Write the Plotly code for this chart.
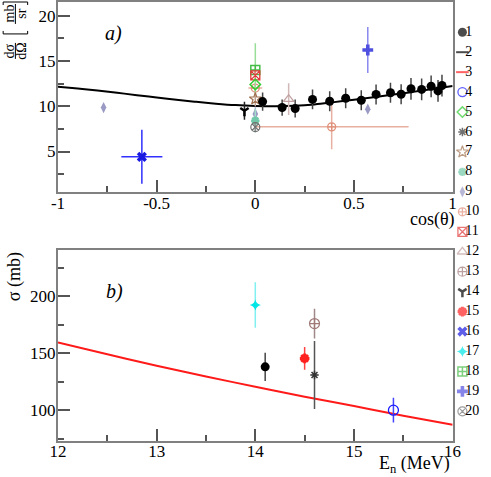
import plotly.graph_objects as go

# ---------------- panel a) angular distribution ----------------
theory_cos = [-1.0, -0.9, -0.8, -0.7, -0.6, -0.5, -0.4, -0.3, -0.2, -0.1, 0.0,
              0.1, 0.2, 0.3, 0.4, 0.5, 0.6, 0.7, 0.8, 0.9, 1.0]
theory_dsdo = [12.15, 11.95, 11.72, 11.48, 11.22, 10.97, 10.72, 10.48, 10.28, 10.12, 10.03,
               10.0, 10.05, 10.2, 10.45, 10.72, 10.98, 11.28, 11.58, 11.9, 12.22]

a1_cos = [0.037, 0.136, 0.202, 0.290, 0.377, 0.458, 0.537, 0.612, 0.685, 0.739,
          0.789, 0.843, 0.891, 0.926, 0.946]
a1_val = [10.51, 9.85, 9.74, 10.75, 10.55, 10.88, 10.66, 11.30, 11.48, 11.32,
          11.92, 11.85, 12.20, 11.69, 12.28]
a1_err = [1.0, 0.9, 1.0, 1.1, 1.1, 1.1, 1.1, 1.1, 1.1, 1.1, 1.2, 1.2, 1.2, 1.2, 1.2]

a5_cos, a5_val, a5_err = [0.0], [12.4], [0.0]
a7_cos, a7_val, a7_err = [0.0], [10.8], [0.8]
a8_cos, a8_val, a8_err = [0.0], [8.4], [1.3]
a9_cos, a9_val, a9_err = [-0.769, 0.0, 0.570], [9.85, 9.15, 9.67], [0.3, 0.8, 0.4]
a10_cos, a10_val = [0.0, 0.387], [12.0, 7.72]
a10_err, a10_xerr = [0.5, 2.48], [0.035, 0.39]
a11_cos, a11_val, a11_err = [0.0], [13.4], [0.5]
a12_cos, a12_val, a12_err = [0.169], [10.77], [1.75]
a14_cos, a14_val, a14_err = [-0.055], [9.5], [1.0]
a16_cos, a16_val, a16_err, a16_xerr = [-0.575], [4.41], [2.98], [0.104]
a18_cos, a18_val, a18_err = [0.0], [14.0], [2.95]
a19_cos, a19_val, a19_err = [0.570], [16.2], [2.55]
a20_cos, a20_val, a20_err = [0.0], [7.7], [0.5]

# ---------------- panel b) cross section vs energy ----------------
calc_en = [12.0, 12.5, 13.0, 13.5, 14.0, 14.5, 15.0, 15.5, 16.0]
calc_sigma = [159.3, 149.1, 138.9, 129.5, 120.6, 111.8, 103.6, 95.2, 87.2]

b1_en, b1_val, b1_err = [14.10], [138.0], [12.4]
b4_en, b4_val, b4_err = [15.40], [100.0], [10.9]
b6_en, b6_val, b6_err = [14.60], [130.8], [29.8]
b13_en, b13_val, b13_err = [14.60], [175.9], [13.1]
b15_en, b15_val, b15_err = [14.50], [145.4], [9.9]
b17_en, b17_val, b17_err = [14.00], [192.2], [20.0]

legend_labels = [str(i) for i in range(1, 21)]

cos_ticks = [-1, -0.5, 0, 0.5, 1]
cos_ticktext = ['-1', '-0.5', '0', '0.5', '1']

# marker styles per data set (symbol, colour, size, line width, error bar colour)
STYLE = {
    1: ('circle', 'black', 9, 0, '#444444'),
    2: ('line-ew-open', 'black', 10, 2, 'black'),
    3: ('line-ew-open', '#ff2020', 10, 2, '#ff2020'),
    4: ('circle-open', '#1a1aff', 10, 1.3, '#4444ff'),
    5: ('diamond-open', '#33cc33', 8, 1.5, '#88dd88'),
    6: ('asterisk-open', '#333333', 7, 1.5, '#555555'),
    7: ('star-open', '#a07050', 9, 1.2, '#c0a090'),
    8: ('asterisk-open', '#70c8a8', 7, 2.5, '#a0dcc8'),
    9: ('diamond-tall', '#9a9ac4', 8, 0, '#b8b8d8'),
    10: ('circle-cross-open', '#e0907a', 8, 1.3, '#e8b0a0'),
    11: ('square-x-open', '#e03a3a', 9, 1.3, '#e88080'),
    12: ('triangle-up-open', '#c0a0a0', 9, 1.3, '#d0b8b8'),
    13: ('circle-cross-open', '#a07878', 10, 1.2, '#a08888'),
    14: ('y-down-open', 'black', 7, 2.5, '#222222'),
    15: ('asterisk-open', '#ff2020', 8, 3, '#ff4040'),
    16: ('x', '#1a1ae0', 9, 0, '#3030ff'),
    17: ('star-diamond', '#00e5e5', 8, 0, '#80f0f0'),
    18: ('square-cross-open', '#44bb44', 9, 1.5, '#99dd99'),
    19: ('cross', '#5050e0', 9, 0, '#8888ee'),
    20: ('circle-x-open', '#707070', 9, 1.2, '#909090'),
}

SERIF = 'Liberation Serif'

fig = go.Figure()


def add_points(key, x, y, ey, ex=None, xaxis='x', yaxis='y'):
    sym, col, size, lw, ecol = STYLE[key]
    fig.add_trace(go.Scatter(
        x=x, y=y, mode='markers', xaxis=xaxis, yaxis=yaxis,
        marker=dict(symbol=sym, color=col, size=size, line=dict(width=lw, color=col)),
        error_y=dict(type='data', array=ey, color=ecol, thickness=1.5, width=0),
        error_x=dict(type='data', array=ex, color=ecol, thickness=1.5, width=0,
                     visible=ex is not None),
        showlegend=False, hoverinfo='x+y',
    ))


# panel a
fig.add_trace(go.Scatter(x=theory_cos, y=theory_dsdo, mode='lines',
                         line=dict(color='black', width=2, shape='spline'),
                         showlegend=False))
add_points(10, a10_cos, a10_val, a10_err, a10_xerr)
add_points(16, a16_cos, a16_val, a16_err, a16_xerr)
add_points(18, a18_cos, a18_val, a18_err)
add_points(11, a11_cos, a11_val, a11_err)
add_points(5, a5_cos, a5_val, a5_err)
add_points(7, a7_cos, a7_val, a7_err)
add_points(9, a9_cos, a9_val, a9_err)
add_points(8, a8_cos, a8_val, a8_err)
add_points(20, a20_cos, a20_val, a20_err)
add_points(12, a12_cos, a12_val, a12_err)
add_points(14, a14_cos, a14_val, a14_err)
add_points(19, a19_cos, a19_val, a19_err)
add_points(1, a1_cos, a1_val, a1_err)

# panel b
fig.add_trace(go.Scatter(x=calc_en, y=calc_sigma, mode='lines', xaxis='x2', yaxis='y2',
                         line=dict(color='#ff1a1a', width=2, shape='spline'),
                         showlegend=False))
add_points(17, b17_en, b17_val, b17_err, xaxis='x2', yaxis='y2')
add_points(1, b1_en, b1_val, b1_err, xaxis='x2', yaxis='y2')
add_points(15, b15_en, b15_val, b15_err, xaxis='x2', yaxis='y2')
add_points(6, b6_en, b6_val, b6_err, xaxis='x2', yaxis='y2')
add_points(13, b13_en, b13_val, b13_err, xaxis='x2', yaxis='y2')
add_points(4, b4_en, b4_val, b4_err, xaxis='x2', yaxis='y2')

# key column on the right, drawn on its own axes
keys = list(range(1, 21))
rows = list(range(len(keys)))
fig.add_trace(go.Scatter(
    x=[0] * len(keys), y=rows, xaxis='x3', yaxis='y3', mode='markers',
    marker=dict(symbol=[STYLE[k][0] for k in keys], color=[STYLE[k][1] for k in keys],
                size=[min(STYLE[k][2], 9) for k in keys],
                line=dict(width=[STYLE[k][3] for k in keys], color=[STYLE[k][1] for k in keys])),
    showlegend=False, hoverinfo='skip', cliponaxis=False,
))
fig.add_trace(go.Scatter(
    x=[0.3] * len(keys), y=rows, xaxis='x3', yaxis='y3', mode='text',
    text=legend_labels, textposition='middle right',
    textfont=dict(family=SERIF, size=14, color='black'),
    showlegend=False, hoverinfo='skip', cliponaxis=False,
))

# geometry of the page (pixels)
L, T, W, H = 58, 1, 433, 440
X_RIGHT = (461 - L) / W


def xp(px):
    return (px - L) / W


def yp(py):
    return (T + H - py) / H


frame = dict(showline=True, mirror=True, linecolor='#808080', linewidth=2,
             ticks='inside', ticklen=12, tickwidth=1.5, tickcolor='#555555',
             showgrid=False, zeroline=False,
             tickfont=dict(family=SERIF, size=17, color='black'))
minor = dict(ticks='inside', ticklen=6, tickcolor='#555555')

fig.update_layout(
    width=491, height=477,
    margin=dict(l=L, r=0, t=T, b=477 - T - H),
    paper_bgcolor='white', plot_bgcolor='white',
    showlegend=False,
    xaxis=dict(frame, domain=[0, X_RIGHT], anchor='y', range=[-1, 1],
               tickvals=cos_ticks, ticktext=cos_ticktext, ticklabelstandoff=-6,
               minor=dict(minor, dtick=0.25, tick0=0)),
    yaxis=dict(frame, domain=[yp(191.7), 1], anchor='x', range=[0.5, 21.5],
               tick0=0, dtick=5, ticklabelstandoff=-3,
               minor=dict(minor, dtick=2.5, tick0=0)),
    xaxis2=dict(frame, domain=[0, X_RIGHT], anchor='y2', range=[12, 16],
                tick0=12, dtick=1, ticklabelstandoff=-6,
                minor=dict(minor, dtick=0.5, tick0=12)),
    yaxis2=dict(frame, domain=[0, yp(250)], anchor='x2', range=[73, 240],
                tick0=0, dtick=50, ticklabelstandoff=-3,
                minor=dict(minor, dtick=25, tick0=0)),
    xaxis3=dict(domain=[X_RIGHT, 1], anchor='y3', range=[-1, 2], visible=False),
    yaxis3=dict(domain=[0, 1], anchor='x3', range=[20.485, -1.515], visible=False),
)


def label(text, px, py, size=17, angle=0):
    fig.add_annotation(text=text, x=xp(px), y=yp(py), xref='paper', yref='paper',
                       showarrow=False, textangle=angle, xanchor='center', yanchor='middle',
                       font=dict(family=SERIF, size=size, color='black'))


label('<i>a)</i>', 115, 33, size=20)
label('<i>b)</i>', 116, 291, size=20)
label('cos(θ)', 440, 219, size=18)
label('E<sub>n</sub> (MeV)', 422, 465, size=18)
label('σ (mb)', 13, 276, size=18, angle=-90)

# d(sigma)/d(Omega) [mb/sr] written as stacked fractions
label('dσ', 8.5, 50, size=14, angle=-90)
label('dΩ', 21, 50, size=14, angle=-90)
label('mb', 8.5, 13, size=14, angle=-90)
label('sr', 21, 13, size=14, angle=-90)
bar = dict(type='line', xref='paper', yref='paper', line=dict(color='black', width=1))
fig.add_shape(bar, x0=xp(14.5), x1=xp(14.5), y0=yp(42), y1=yp(58))
fig.add_shape(bar, x0=xp(14.5), x1=xp(14.5), y0=yp(3), y1=yp(23))
fig.add_shape(type='path', xref='paper', yref='paper', line=dict(color='black', width=1),
              path=f'M{xp(2)},{yp(30)} L{xp(2)},{yp(33)} L{xp(27)},{yp(33)} L{xp(27)},{yp(30)}')
fig.add_shape(type='path', xref='paper', yref='paper', line=dict(color='black', width=1),
              path=f'M{xp(2)},{yp(4)} L{xp(2)},{yp(1)} L{xp(27)},{yp(1)} L{xp(27)},{yp(4)}')

# the page's default body margin would shift the whole figure by 8 px
fig.write_html("out.html", config={'displayModeBar': False},
               post_script="document.body.style.margin='0px';")
